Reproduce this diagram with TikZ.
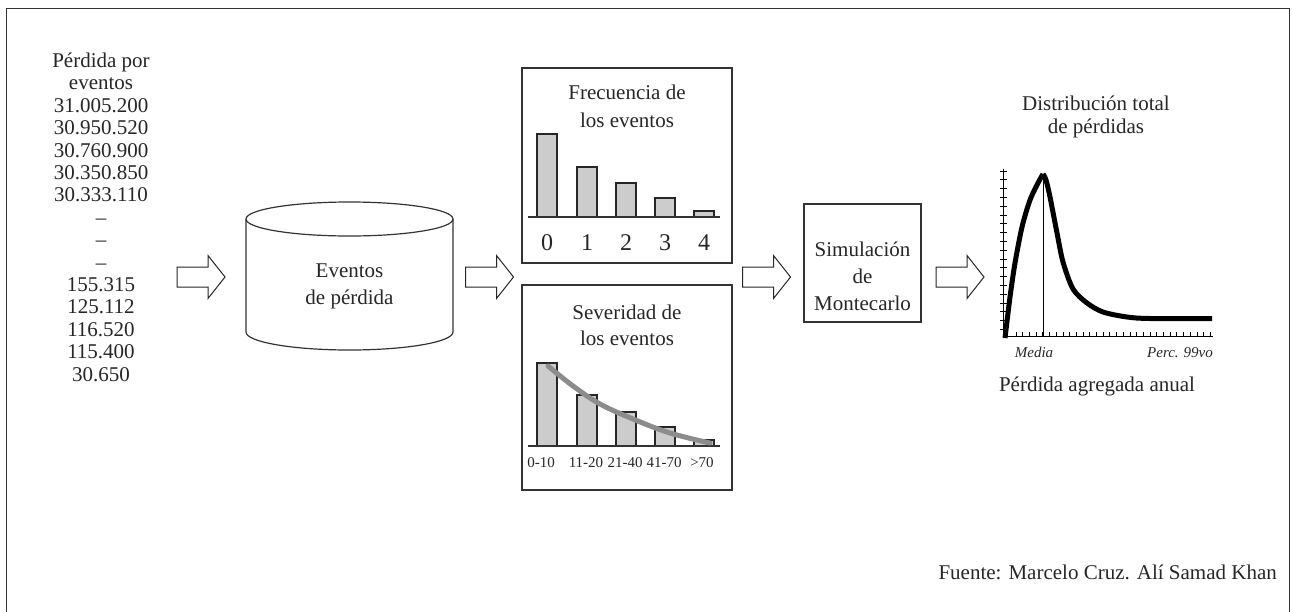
\documentclass[tikz,border=0pt]{standalone}
\usepackage{fontspec}
\setmainfont{Liberation Serif}
\begin{document}
\begin{tikzpicture}[x=1pt,y=-1pt,
  txt/.style={font=\fontsize{21}{22}\selectfont, inner sep=0, anchor=base, text=black!85},
  small/.style={font=\fontsize{15}{16}\selectfont, inner sep=0, anchor=base, text=black!85},
  digit/.style={font=\fontsize{24}{25}\selectfont, inner sep=0, anchor=base, text=black!85},
  ital/.style={font=\itshape\fontsize{15}{16}\selectfont, inner sep=0, anchor=base, text=black!85},
  boxsty/.style={draw=black!80, line width=1.2pt, inner sep=0},
  ln/.style={draw=black!80, line width=1.2pt},
  barf/.style={fill=black!20, draw=black!85, line width=1.1pt},
  arrowsty/.style={draw=black!85, line width=1pt, fill=white, line join=miter},
]
\useasboundingbox (0,0) rectangle (1292,611);
% frame
\draw[ln] (6.5,612) -- (6.5,8.5) -- (1289.5,8.5) -- (1289.5,612);

% left column
\foreach \t [count=\i from 0] in {P\'erdida por, eventos, 31.005.200, 30.950.520, 30.760.900, 30.350.850, 30.333.110, --, --, --, 155.315, 125.112, 116.520, 115.400, 30.650}
  \node[txt] (l\i) at (101, 67.5+22.4*\i) {\t};

% block arrows
\newcommand\blockarr[1]{\draw[arrowsty, shift={(#1)}] (-24,-10) -- (7,-10) -- (7,-21.5) -- (24,0) -- (7,21.5) -- (7,10) -- (-24,10) -- cycle;}
\coordinate (a1) at (201,277);
\coordinate (a2) at (489.5,277);
\coordinate (a3) at (766.5,277);
\coordinate (a4) at (960,277);
\blockarr{a1}\blockarr{a2}\blockarr{a3}\blockarr{a4}

% cylinder
\node[inner sep=0, minimum width=207pt, minimum height=113pt] (cyl) at (349.5,275.5) {};
\draw[ln] (246,219) -- (246,332) arc[start angle=180, end angle=360, x radius=103.5pt, y radius=18pt] -- (453,219);
\draw[ln] (349.5,219) ellipse [x radius=103.5pt, y radius=17pt];
\node[txt] (cyl1) at (349.5,277) {Eventos};
\node[txt] (cyl2) at (349.5,304) {de p\'erdida};

% frecuencia box
\node[boxsty, minimum width=210pt, minimum height=195pt] (freq) at (627,165.5) {};
\node[txt] (f1) at (627,99) {Frecuencia de};
\node[txt] (f2) at (627,127) {los eventos};
\draw[barf] (537,217) rectangle (557,134);
\draw[barf] (577,217) rectangle (597,167);
\draw[barf] (616,217) rectangle (636,183);
\draw[barf] (655,217) rectangle (675,198);
\draw[barf] (694,217) rectangle (714,211);
\draw[ln] (528,217) -- (720,217);
\node[digit] (fd0) at (547,250) {0};
\node[digit] (fd1) at (587,250) {1};
\node[digit] (fd2) at (626,250) {2};
\node[digit] (fd3) at (665,250) {3};
\node[digit] (fd4) at (704,250) {4};

% severidad box
\node[boxsty, minimum width=210pt, minimum height=205pt] (sev) at (627,387.5) {};
\node[txt] (s1) at (627,319) {Severidad de};
\node[txt] (s2) at (627,345) {los eventos};
\draw[barf] (537,446) rectangle (557,363);
\draw[barf] (577,446) rectangle (597,395);
\draw[barf] (616,446) rectangle (636,412);
\draw[barf] (655,446) rectangle (675,427);
\draw[barf] (694,446) rectangle (714,440);
\draw[ln] (528,446) -- (720,446);
\draw[draw=black!45, line width=5pt, line cap=round] plot[smooth, tension=0.6] coordinates {(548,366) (573,386) (600,404) (633,419) (670,433) (710,443)};
\node[small] (sl0) at (541,467) {0-10};
\node[small] (sl1) at (586,467) {11-20};
\node[small] (sl2) at (625,467) {21-40};
\node[small] (sl3) at (664,467) {41-70};
\node[small] (sl4) at (702,467) {>70};

% simulacion
\node[boxsty, minimum width=117pt, minimum height=118pt] (sim) at (862.5,263) {};
\node[txt] (m1) at (862.5,256) {Simulaci\'on};
\node[txt] (m2) at (862.5,283) {de};
\node[txt] (m3) at (862.5,310) {Montecarlo};

% distribution
\node[txt] (d1) at (1096,110) {Distribuci\'on total};
\node[txt] (d2) at (1096,133) {de p\'erdidas};
\coordinate (orig) at (1003,336);
\draw[black, line width=1pt] (1003,169) -- (1003,336) -- (1213,336);
\foreach \k in {0,...,18} \draw[black, line width=0.7pt] (1000,{171+8.8*\k}) -- (1007,{171+8.8*\k});
\foreach \k in {0,...,29} \draw[black, line width=0.7pt] ({1016+6.7*\k},336) -- ({1016+6.7*\k},332);
\draw[black, line width=1pt] (1043,175) -- (1043,336);
\draw[black, line width=5pt, line join=round, line cap=butt] plot[smooth, tension=0.5] coordinates {(1005,338) (1010,297) (1015,263) (1022,227) (1030,200) (1038,183) (1043,174)};
\draw[black, line width=5pt, line join=round, line cap=butt] plot[smooth, tension=0.5] coordinates {(1043,174) (1046,180) (1050,197) (1057,233) (1063,262) (1073,289) (1087,303) (1103,312) (1127,317) (1150,318.5) (1212,318.5)};
\node[ital] (med) at (1034,357) {Media};
\node[ital] (perc) at (1180,357) {Perc. 99vo};
\node[txt] (pa) at (1097,391) {P\'erdida agregada anual};

% fuente
\node[txt, anchor=base east] (src) at (1277,579) {Fuente: Marcelo Cruz. Al\'i Samad Khan};
\end{tikzpicture}
\end{document}
